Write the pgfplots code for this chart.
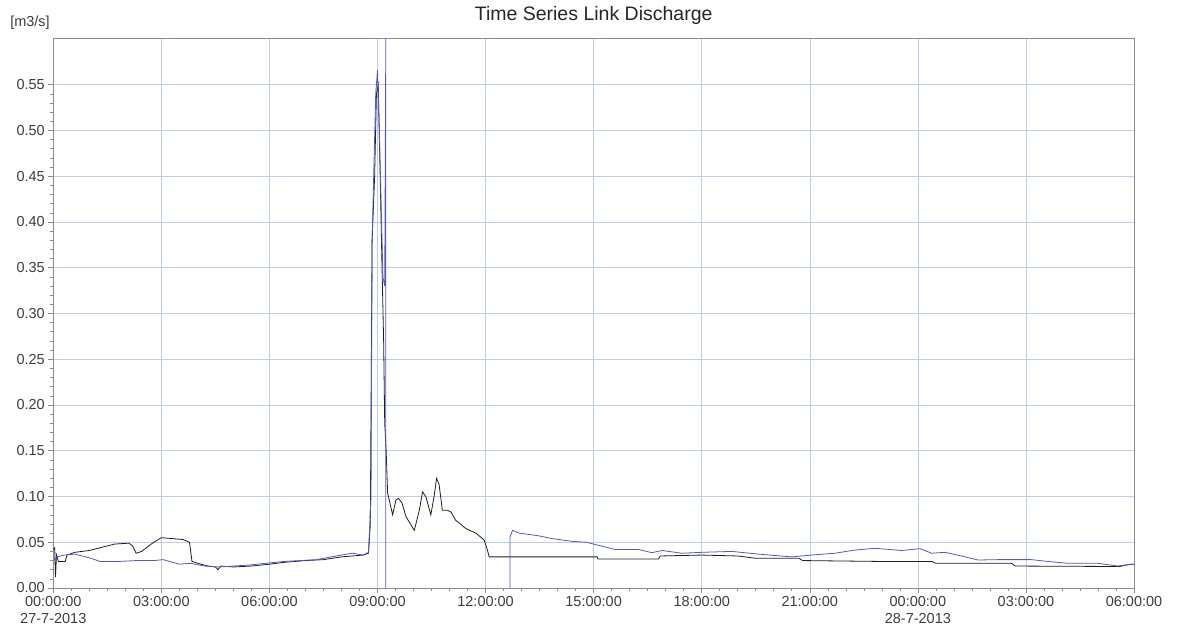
\documentclass[border=0pt]{standalone}
\usepackage{fontspec}
\setmainfont{Liberation Sans}
\usepackage{pgfplots}
\pgfplotsset{compat=1.18}
\definecolor{gridblue}{RGB}{188,204,240}
\definecolor{serblue}{RGB}{85,85,205}
\definecolor{serblack}{RGB}{30,30,30}
\definecolor{axgray}{RGB}{140,140,140}
\definecolor{txtgray}{RGB}{60,60,60}
\begin{document}
\begin{tikzpicture}
\begin{axis}[name=ax, scale only axis, width=1080.7pt, height=549pt,
  xmin=0, xmax=30, ymin=0, ymax=0.6,
  xtick={0,3,...,30},
  xticklabels={{00:00:00\\27-7-2013},{03:00:00},{06:00:00},{09:00:00},{12:00:00},{15:00:00},{18:00:00},{21:00:00},{00:00:00\\28-7-2013},{03:00:00},{06:00:00}},
  minor x tick num=5,
  ytick={0,0.05,0.1,0.15,0.2,0.25,0.3,0.35,0.4,0.45,0.5,0.55},
  minor y tick num=4,
  grid=major, major grid style={gridblue, line width=0.6pt},
  axis line style={axgray, line width=1pt},
  tick style={axgray, line width=0.6pt},
  tick align=outside, major tick length=5pt, minor tick length=3pt,
  tick pos=left,
  ticklabel style={font=\fontsize{14.5}{17}\selectfont, text=txtgray},
  xticklabel style={align=center, anchor=north},
  yticklabel style={/pgf/number format/fixed, /pgf/number format/fixed zerofill, /pgf/number format/precision=2},
  /pgf/number format/assume math mode=true,
]
\addplot[serblack, line width=0.8pt] coordinates {
(0,0.042) (0.04,0.044) (0.06,0.012) (0.09,0.036) (0.14,0.029) (0.33,0.029) (0.38,0.036) (0.6,0.039) (1.0,0.041) (1.4,0.045) (1.7,0.048) (2.1,0.049) (2.2,0.046) (2.3,0.038) (2.45,0.040) (2.75,0.049) (3.0,0.055) (3.3,0.054) (3.6,0.053) (3.78,0.050) (3.85,0.029) (4.1,0.026) (4.3,0.024) (4.5,0.023) (4.57,0.020) (4.65,0.024) (5.0,0.023) (5.5,0.024) (6.0,0.026) (6.4,0.028) (7.0,0.030) (7.5,0.031) (8.0,0.034) (8.3,0.035) (8.6,0.036) (8.75,0.038) (8.8,0.07) (8.85,0.38) (8.92,0.45) (8.97,0.54) (9.02,0.55) (9.08,0.44) (9.12,0.36) (9.17,0.27) (9.2,0.18) (9.24,0.15) (9.28,0.104) (9.42,0.080) (9.51,0.096) (9.58,0.098) (9.68,0.093) (9.79,0.078) (10.02,0.063) (10.16,0.085) (10.25,0.105) (10.34,0.100) (10.48,0.080) (10.57,0.100) (10.64,0.120) (10.71,0.113) (10.80,0.085) (10.94,0.085) (11.04,0.083) (11.17,0.074) (11.27,0.071) (11.45,0.065) (11.73,0.060) (11.96,0.0525) (12.05,0.0415) (12.10,0.034) (15.1,0.034) (15.12,0.0317) (16.8,0.0317) (16.85,0.035) (18.0,0.036) (19.0,0.035) (19.5,0.0325) (20.7,0.0325) (20.8,0.030) (23.0,0.029) (24.4,0.029) (24.5,0.027) (26.6,0.027) (26.7,0.024) (29.6,0.0235) (29.9,0.026) (30,0.026)
};
\addplot[serblue, line width=0.8pt] coordinates {
(0,0.036) (0.05,0.030) (0.1,0.034) (0.3,0.036) (0.6,0.037) (1.0,0.033) (1.3,0.029) (1.8,0.029) (2.3,0.030) (2.8,0.030) (3.05,0.031) (3.5,0.026) (3.8,0.027) (4.2,0.024) (4.6,0.023) (5.4,0.025) (6.4,0.029) (7.3,0.031) (8.0,0.036) (8.3,0.038) (8.6,0.036) (8.75,0.039) (8.82,0.10) (8.85,0.38) (8.9,0.46) (8.95,0.54) (9.0,0.566) (9.05,0.50) (9.1,0.42) (9.15,0.34) (9.2,0.33) (9.23,0.6) (9.23,0)
};
\addplot[serblue, line width=0.8pt] coordinates {
(12.68,0) (12.68,0.056) (12.75,0.063) (12.93,0.060) (13.48,0.057) (13.85,0.054) (14.4,0.051) (14.8,0.050) (15.1,0.047) (15.61,0.042) (16.25,0.042) (16.62,0.0386) (16.9,0.041) (17.45,0.038) (18.0,0.039) (18.84,0.040) (19.58,0.037) (20.5,0.034) (21.05,0.036) (21.7,0.038) (22.26,0.0415) (22.81,0.0434) (23.55,0.041) (24.06,0.043) (24.38,0.038) (24.75,0.039) (25.21,0.035) (25.67,0.0306) (26.22,0.031) (27.15,0.031) (27.61,0.029) (28.16,0.027) (28.99,0.027) (29.55,0.024) (29.92,0.026) (30,0.026)
};
\end{axis}
\node[anchor=east, font=\fontsize{14.5}{17}\selectfont, text=txtgray] at ([yshift=16pt]ax.north west) {[m3/s]};
\node[font=\fontsize{19.5}{22}\selectfont, text=black!85] at ([yshift=24pt]ax.north) {Time Series Link Discharge};
\pgfresetboundingbox
\path ([xshift=-53.3pt,yshift=-40pt]ax.south west) rectangle ([xshift=45pt,yshift=39pt]ax.north east);
\end{tikzpicture}
\end{document}
